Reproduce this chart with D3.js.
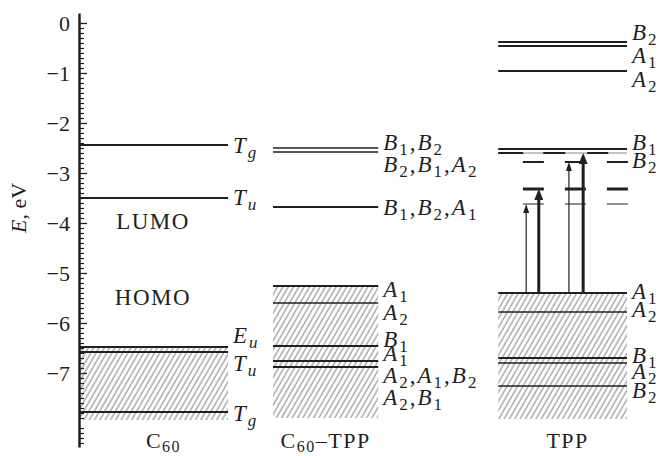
<!DOCTYPE html>
<html>
<head>
<meta charset="utf-8">
<script src="https://cdn.jsdelivr.net/npm/d3@7"></script>
<style>
  html, body { margin: 0; padding: 0; background: #fff; }
  #chart { width: 664px; height: 456px; }
  svg text { font-family: "Liberation Serif", "Times New Roman", Times, serif !important; fill: #231f20; }
</style>
</head>
<body>
<div id="chart"></div>
<script>
// columns (x spans in a 0..1 scale) and titles
const columnTitles = ['C60', 'C60–TPP', 'TPP'];
const columnSpans = [[0, 0.272], [0.354, 0.546], [0.765, 1]];

// energy levels, eV  (labels: capitals = symbol, lower case / digits = subscript)
const c60Levels = [-2.44, -3.5, -6.48, -6.58, -7.78];
const c60Labels = ['Tg', 'Tu', 'Eu', 'Tu', 'Tg'];
const c60LabelE = [-2.44, -3.48, -6.24, -6.8, -7.8];
const c60Band = [-6.48, -7.94];

const c60TppLevels = [-2.5, -2.58, -3.68, -5.26, -5.6, -6.46, -6.76, -6.88];
const c60TppLabels = ['B1,B2', 'B2,B1,A2', 'B1,B2,A1', 'A1', 'A2', 'B1', 'A1', 'A2,A1,B2', 'A2,B1'];
const c60TppLabelE = [-2.38, -2.82, -3.68, -5.32, -5.78, -6.32, -6.6, -7.04, -7.48];
const c60TppBand = [-5.26, -7.9];

const tppLevels = [-0.38, -0.46, -0.96, -2.52, -5.4, -5.78, -6.7, -6.8, -7.26];
const tppLabels = ['B2', 'A1', 'A2', 'B1', 'B2', 'A1', 'A2', 'B1', 'A2', 'B2'];
const tppLabelE = [-0.18, -0.64, -1.12, -2.38, -2.74, -5.36, -5.72, -6.64, -6.96, -7.34];
const tppBand = [-5.4, -7.92];
const tppSplitLevel = -2.6;                 // grey/black broken line
const tppShortLevels = [-2.78, -3.32, -3.62];
const tppArrowFrom = -5.4;
const tppArrowTo = [-3.62, -3.32, -2.78, -2.6];

const yTicks = d3.range(0, -7.5, -1);

// styles
const c60Width = [2, 2, 2, 2, 2];
const c60TppWidth = [1.6, 1.6, 1.8, 2, 1.5, 2, 2, 2];
const tppWidth = [2, 2, 2, 2.2, 2.2, 1.3, 2, 1.3, 1.3];
const shortWidth = [1.8, 3, 1];
const arrowX = [0.816, 0.839, 0.894, 0.92];
const arrowThick = [false, true, false, true];

const chart = {};

chart.create = function(config){
  chart.config = config;
  this.config.width_svg = 664;
  this.config.height_svg = 456;
  this.config.font = '"Liberation Serif", "Times New Roman", serif';
  this.config.svg = d3.select(`#${this.config.target}`)
                      .append('svg')
                      .attr('width', this.config.width_svg)
                      .attr('height', this.config.height_svg);
  this.update();
}

chart.update = function(){
  let svg = this.config.svg,
      font = this.config.font,
      ink = '#231f20';
  let x = d3.scaleLinear().domain([0, 1]).range([79, 627]);
  let y = d3.scaleLinear().domain([0.2, -8.48]).range([13, 447]);

  // hatch
  let defs = svg.append('defs');
  defs.append('pattern')
      .attr('id', 'hatch')
      .attr('patternUnits', 'userSpaceOnUse')
      .attr('width', 4.6).attr('height', 10)
      .attr('patternTransform', 'rotate(30)')
    .append('line')
      .attr('x1', 2).attr('y1', 0).attr('x2', 2).attr('y2', 10)
      .attr('stroke', '#6b6b6b').attr('stroke-width', 0.9);
  [['thin', 9, 3], ['thick', 11, 4.5]].forEach(([id, len, w]) => {
    defs.append('marker')
        .attr('id', `head_${id}`)
        .attr('markerUnits', 'userSpaceOnUse')
        .attr('viewBox', `0 ${-w} ${len} ${2 * w}`)
        .attr('markerWidth', len).attr('markerHeight', 2 * w)
        .attr('refX', 0).attr('refY', 0)
        .attr('orient', 'auto')
      .append('path')
        .attr('d', `M0,${-w}L${len},0L0,${w}Z`)
        .attr('fill', ink);
  });

  // rich text: capitals as symbols (italic optional), lower case / digits as subscripts
  function rich(sel, str, italic, subSize, shift){
    let runs = str.match(/[a-z\d]+|[A-Z]+|[^A-Za-z\d]+/g);
    let down = false;
    runs.forEach(r => {
      let t = sel.append('tspan').text(r);
      if (/^[a-z\d]+$/.test(r)) {
        t.attr('font-size', subSize).attr('dy', down ? 0 : shift);
        if (italic && /[a-z]/.test(r)) t.attr('font-style', 'italic');
        down = true;
      } else {
        if (down) t.attr('dy', -shift);
        down = false;
        if (italic && /[A-Z]/.test(r)) t.attr('font-style', 'italic');
      }
    });
  }

  let columns = [
    {levels: c60Levels, widths: c60Width, labels: c60Labels, labelE: c60LabelE, band: c60Band},
    {levels: c60TppLevels, widths: c60TppWidth, labels: c60TppLabels, labelE: c60TppLabelE, band: c60TppBand},
    {levels: tppLevels, widths: tppWidth, labels: tppLabels, labelE: tppLabelE, band: tppBand}
  ];

  columns.forEach((col, ci) => {
    let [a, b] = columnSpans[ci];
    let g = svg.append('g').attr('id', `g_col_${ci}`);
    g.append('rect')
      .attr('x', x(a)).attr('width', x(b) - x(a))
      .attr('y', y(col.band[0])).attr('height', y(col.band[1]) - y(col.band[0]))
      .attr('fill', 'url(#hatch)');
    g.selectAll('line.level')
      .data(col.levels)
      .enter().append('line')
        .attr('class', 'level')
        .attr('x1', x(a)).attr('x2', x(b))
        .attr('y1', d => y(d)).attr('y2', d => y(d))
        .attr('stroke', ink)
        .attr('stroke-width', (d, i) => col.widths[i]);
    g.selectAll('text.lab')
      .data(col.labels)
      .enter().append('text')
        .attr('class', 'lab')
        .attr('x', x(b) + 5)
        .attr('y', (d, i) => y(col.labelE[i]))
        .attr('dy', '0.33em')
        .attr('font-family', font)
        .attr('font-size', 23)
        .attr('letter-spacing', 2)
        .each(function(d){ rich(d3.select(this), d, true, 17, 5); });
    let title = svg.append('text')
        .attr('x', (x(a) + x(b)) / 2 + (ci === 0 ? 10 : ci === 2 ? 5 : 0))
        .attr('y', 448)
        .attr('text-anchor', 'middle')
        .attr('font-family', font)
        .attr('font-size', 22)
        .attr('letter-spacing', 1.5);
    rich(title, columnTitles[ci], false, 16, 4);
  });

  // TPP excited-state details
  let [ta, tb] = columnSpans[2];
  let gt = svg.append('g').attr('id', 'g_tpp_extra');
  gt.append('line')
    .attr('x1', x(ta)).attr('x2', x(tb))
    .attr('y1', y(tppSplitLevel)).attr('y2', y(tppSplitLevel))
    .attr('stroke', '#c4c4c4').attr('stroke-width', 2);
  gt.append('line')
    .attr('x1', x(ta)).attr('x2', x(tb))
    .attr('y1', y(tppSplitLevel)).attr('y2', y(tppSplitLevel))
    .attr('stroke', ink).attr('stroke-width', 2)
    .attr('stroke-dasharray', '25,20,22,22,21,21');
  gt.selectAll('line.short')
    .data(tppShortLevels)
    .enter().append('line')
      .attr('class', 'short')
      .attr('x1', x(0.81)).attr('x2', x(tb) + 1)
      .attr('y1', d => y(d)).attr('y2', d => y(d))
      .attr('stroke', ink)
      .attr('stroke-width', (d, i) => shortWidth[i])
      .attr('stroke-dasharray', '21,21');
  gt.selectAll('line.arrow')
    .data(tppArrowTo)
    .enter().append('line')
      .attr('class', 'arrow')
      .attr('x1', (d, i) => x(arrowX[i])).attr('x2', (d, i) => x(arrowX[i]))
      .attr('y1', y(tppArrowFrom))
      .attr('y2', (d, i) => y(d) + (arrowThick[i] ? 11 : 9))
      .attr('stroke', ink)
      .attr('stroke-width', (d, i) => arrowThick[i] ? 3 : 1.2)
      .attr('marker-end', (d, i) => `url(#head_${arrowThick[i] ? 'thick' : 'thin'})`);

  // y axis
  let yAxis = g => g.attr('transform', `translate(${x(0)}, 0)`)
                  .call(d3.axisLeft(y).tickValues(yTicks).tickSize(-8).tickSizeOuter(0).tickPadding(9))
                  .call(g => g.select('.domain').attr('stroke', ink).attr('stroke-width', 2.5))
                  .call(g => g.selectAll('.tick line').attr('stroke', ink).attr('stroke-width', 1.3))
                  .call(g => g.selectAll('.tick text')
                              .attr('fill', ink)
                              .attr('font-family', font)
                              .attr('font-size', 22)
                              .attr('dy', '0.35em'));
  let minor = d3.range(1, 85).filter(i => i % 10 !== 0).map(i => -i / 10);
  svg.append('g')
    .attr('transform', `translate(${x(0)}, 0)`)
    .call(d3.axisLeft(y).tickValues(minor).tickSize(-5).tickSizeOuter(0).tickFormat(''))
    .call(g => g.select('.domain').remove())
    .call(g => g.selectAll('.tick line').attr('stroke', ink).attr('stroke-width', 1.2));
  svg.append('g').attr('id', 'g_yAxis').call(yAxis);

  let yt = svg.append('text')
    .attr('transform', 'translate(26, 208) rotate(-90)')
    .attr('text-anchor', 'middle')
    .attr('font-family', font)
    .attr('font-size', 22);
  yt.append('tspan').attr('font-style', 'italic').text('E');
  yt.append('tspan').text(', eV');

  svg.append('text').attr('x', 153).attr('y', 229).attr('text-anchor', 'middle')
    .attr('font-family', font).attr('font-size', 23).attr('letter-spacing', 1.5).text('LUMO');
  svg.append('text').attr('x', 153).attr('y', 305).attr('text-anchor', 'middle')
    .attr('font-family', font).attr('font-size', 23).attr('letter-spacing', 1.5).text('HOMO');
}

chart.create({target: 'chart'});
</script>
</body>
</html>
